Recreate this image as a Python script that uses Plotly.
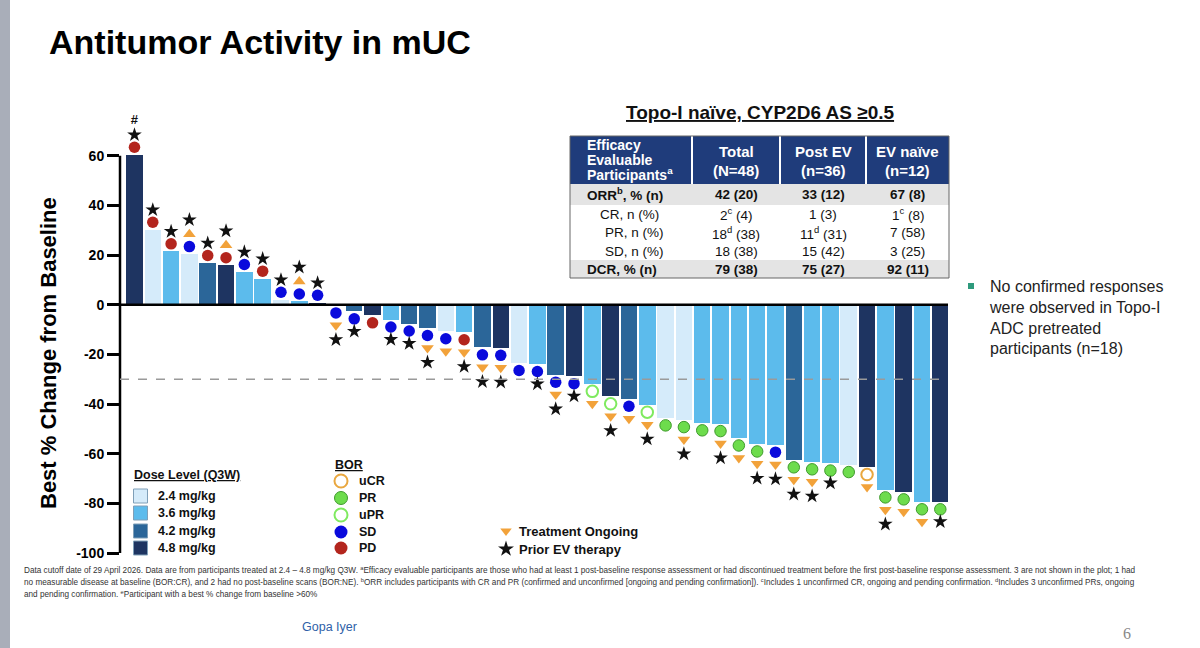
import plotly.graph_objects as go

W, H = 1200, 648

# waterfall data, one entry per participant (sorted by best % change)
best_change = [60.4, 30.2, 21.5, 20.4, 16.8, 15.9, 13.2, 10.5, 2.0, 1.3, 0.8,
               -0.3, -2.7, -4.3, -6.0, -7.6, -9.4, -10.7, -11.1, -17.2, -17.4,
               -23.5, -23.9, -28.2, -28.8, -31.9, -36.9, -37.9, -40.3, -45.6,
               -46.3, -47.6, -47.9, -53.7, -56.1, -56.4, -62.5, -63.3, -63.8,
               -64.4, -65.4, -74.6, -75.4, -79.4, -79.4]
dose = [4.8, 2.4, 3.6, 2.4, 4.2, 4.8, 3.6, 3.6, 2.4, 3.6, 4.8,
        3.6, 4.2, 4.8, 3.6, 4.2, 4.2, 2.4, 3.6, 4.2, 4.8,
        2.4, 3.6, 4.2, 4.8, 3.6, 4.8, 4.2, 3.6, 2.4,
        2.4, 3.6, 3.6, 3.6, 3.6, 3.6, 4.2, 3.6, 3.6,
        2.4, 4.8, 3.6, 4.8, 3.6, 4.8]
bor = ["PD", "PD", "PD", "SD", "PD", "PD", "SD", "PD", "SD", "SD", "SD",
       "SD", "SD", "PD", "SD", "SD", "SD", "SD", "PD", "SD", "SD",
       "SD", "SD", "SD", "SD", "uPR", "uPR", "SD", "uPR", "PR",
       "PR", "PR", "PR", "PR", "PR", "SD", "PR", "PR", "PR",
       "PR", "uCR", "PR", "PR", "PR", "PR"]
ongoing = [0, 0, 0, 1, 0, 1, 0, 0, 0, 1, 0,
           1, 0, 0, 0, 0, 1, 1, 1, 1, 1,
           0, 0, 1, 0, 1, 1, 1, 1, 0,
           1, 0, 1, 1, 1, 1, 1, 1, 0,
           0, 1, 1, 1, 1, 0]
prior_ev = [1, 1, 1, 1, 1, 1, 1, 1, 1, 1, 1,
            1, 1, 0, 1, 1, 1, 0, 1, 1, 1,
            0, 1, 1, 1, 0, 1, 0, 1, 0,
            1, 0, 1, 0, 1, 1, 1, 1, 1,
            0, 0, 1, 0, 0, 1]
over60 = [0]   # participants marked '#'

dose_levels = [2.4, 3.6, 4.2, 4.8]
dose_colors = {2.4: "#d5ebfa", 3.6: "#5cbbec", 4.2: "#2b6699", 4.8: "#1e3461"}
bor_order = ["uCR", "PR", "uPR", "SD", "PD"]
bor_style = {
    "uCR": dict(color="white", line=dict(color="#e9a73f", width=2)),
    "PR": dict(color="#6ddc4c", line=dict(color="#3f9a2c", width=1)),
    "uPR": dict(color="white", line=dict(color="#7fea5f", width=2)),
    "SD": dict(color="#0a0adc", line=dict(width=0)),
    "PD": dict(color="#b3251d", line=dict(width=0)),
}
ORANGE = "#f2a23a"

y_ticks = [-100, -80, -60, -40, -20, 0, 20, 40, 60]
y_ticktext = ["-100", "-80", "-60", "-40", "-20", "0", "20", "40", "60"]
ref_line = -30

# table
table_title = "Topo-I naïve, CYP2D6 AS ≥0.5"
table_head0 = ["Efficacy", "Evaluable", "Participants<sup>a</sup>"]
table_heads = [["Total", "(N=48)"], ["Post EV", "(n=36)"], ["EV naïve", "(n=12)"]]
row_labels = ["ORR<sup>b</sup>, % (n)", "CR, n (%)", "PR, n (%)", "SD, n (%)", "DCR, % (n)"]
col_total = ["42 (20)", "2<sup>c</sup> (4)", "18<sup>d</sup> (38)", "18 (38)", "79 (38)"]
col_post_ev = ["33 (12)", "1 (3)", "11<sup>d</sup> (31)", "15 (42)", "75 (27)"]
col_ev_naive = ["67 (8)", "1<sup>c</sup> (8)", "7 (58)", "3 (25)", "92 (11)"]
bold_rows = [True, False, False, False, True]

footnotes = [
    "Data cutoff date of 29 April 2026. Data are from participants treated at 2.4 – 4.8 mg/kg Q3W. <sup>a</sup>Efficacy evaluable participants are those who had at least 1 post-baseline response assessment or had discontinued treatment before the first post-baseline response assessment. 3 are not shown in the plot; 1 had",
    "no measurable disease at baseline (BOR:CR), and 2 had no post-baseline scans (BOR:NE). <sup>b</sup>ORR includes participants with CR and PR (confirmed and unconfirmed [ongoing and pending confirmation]). <sup>c</sup>Includes 1 unconfirmed CR, ongoing and pending confirmation. <sup>d</sup>Includes 3 unconfirmed PRs, ongoing",
    "and pending confirmation. <sup>e</sup>Participant with a best % change from baseline >60%",
]
side_note = "No confirmed responses<br>were observed in Topo-I<br>ADC pretreated<br>participants (n=18)"

FONT = "Arial, Liberation Sans, sans-serif"


def px(x):
    return x / W


def py(y):
    return 1 - y / H


# plot area in pixels
PL, PR, PT, PB = 120, 948, 116, 553

fig = go.Figure()
ann = []
shapes = []


def text(x, y, s, size, color="#111", bold=False, family=FONT, xanchor="center", yanchor="middle", **kw):
    ann.append(dict(x=px(x), y=py(y), xref="paper", yref="paper", text=s, showarrow=False,
                    xanchor=xanchor, yanchor=yanchor,
                    font=dict(family=family, size=size, color=color,
                              weight="bold" if bold else "normal"), **kw))


n = len(best_change)
xs = list(range(n))
fig.add_trace(go.Bar(x=xs, y=best_change, width=0.9,
                     marker=dict(color=[dose_colors[d] for d in dose], line=dict(width=0)),
                     hoverinfo="y"))

# stacked symbols beyond each bar end
slot = [3, 8, 13.8]
pts = {k: ([], []) for k in bor_order + ["up", "down", "ev", "#"]}
for i, v in enumerate(best_change):
    s = 1 if v > 0 else -1
    items = [bor[i]]
    if ongoing[i]:
        items.append("up" if s > 0 else "down")
    if prior_ev[i]:
        items.append("ev")
    if i in over60:
        items.append("#")
    for k, it in enumerate(items):
        pts[it][0].append(i)
        pts[it][1].append(v + s * slot[k])

for k in bor_order:
    st = bor_style[k]
    fig.add_trace(go.Scatter(x=pts[k][0], y=pts[k][1], mode="markers", cliponaxis=False,
                             marker=dict(symbol="circle", size=11.5, color=st["color"], line=st["line"])))
fig.add_trace(go.Scatter(x=pts["up"][0], y=pts["up"][1], mode="markers", cliponaxis=False,
                         marker=dict(symbol="triangle-up", size=11, color=ORANGE)))
fig.add_trace(go.Scatter(x=pts["down"][0], y=pts["down"][1], mode="markers", cliponaxis=False,
                         marker=dict(symbol="triangle-down", size=11, color=ORANGE)))
fig.add_trace(go.Scatter(x=pts["ev"][0], y=pts["ev"][1], mode="markers", cliponaxis=False,
                         marker=dict(symbol="star", size=11, color="#111111")))
fig.add_trace(go.Scatter(x=pts["#"][0], y=pts["#"][1], mode="text", text=["#"] * len(pts["#"][0]),
                         cliponaxis=False,
                         textfont=dict(family=FONT, size=13, color="#111", weight="bold")))

# legend markers on a pixel overlay axis
lg_dose_y = [496, 513, 531, 548]
fig.add_trace(go.Scatter(x=[140.5] * 4, y=lg_dose_y, mode="markers", xaxis="x2", yaxis="y2",
                         marker=dict(symbol="square", size=14, color=[dose_colors[d] for d in dose_levels],
                                     line=dict(color="#7f9fb8", width=1))))
lg_bor_y = [481, 498, 515, 532, 548]
for k, yy in zip(bor_order, lg_bor_y):
    st = bor_style[k]
    fig.add_trace(go.Scatter(x=[341], y=[yy], mode="markers", xaxis="x2", yaxis="y2",
                             marker=dict(symbol="circle", size=13, color=st["color"], line=st["line"])))
fig.add_trace(go.Scatter(x=[506], y=[531], mode="markers", xaxis="x2", yaxis="y2",
                         marker=dict(symbol="triangle-down", size=10, color=ORANGE)))
fig.add_trace(go.Scatter(x=[506], y=[549], mode="markers", xaxis="x2", yaxis="y2",
                         marker=dict(symbol="star", size=12, color="#111")))

# axes lines
shapes.append(dict(type="line", xref="paper", yref="y", x0=px(PL), x1=px(PL), y0=-100, y1=60,
                   line=dict(color="black", width=2.5)))
shapes.append(dict(type="line", xref="paper", yref="y", x0=px(PL), x1=px(PR), y0=0, y1=0,
                   line=dict(color="black", width=2.5)))
shapes.append(dict(type="line", xref="paper", yref="y", x0=px(PL), x1=px(PR), y0=ref_line, y1=ref_line,
                   line=dict(color="#9a9a9a", width=1.5, dash="dash")))

# left stripe
shapes.append(dict(type="rect", xref="paper", yref="paper", x0=0, x1=px(10), y0=0, y1=1,
                   fillcolor="#a9aeb9", line=dict(width=0), layer="below"))

# table
tx = [570, 692, 780, 866, 949]
ty = [136, 184, 205, 223, 242, 260, 278]
shapes.append(dict(type="rect", xref="paper", yref="paper", x0=px(tx[0]), x1=px(tx[-1]),
                   y0=py(ty[0]), y1=py(ty[1]), fillcolor="#1f3c7b", line=dict(width=0)))
for r in range(len(row_labels)):
    if bold_rows[r]:
        shapes.append(dict(type="rect", xref="paper", yref="paper", x0=px(tx[0]), x1=px(tx[-1]),
                           y0=py(ty[r + 1]), y1=py(ty[r + 2]), fillcolor="#e4e4e4", line=dict(width=0)))
for xv in tx[1:-1]:
    shapes.append(dict(type="line", xref="paper", yref="paper", x0=px(xv), x1=px(xv),
                       y0=py(ty[0]), y1=py(ty[1]), line=dict(color="white", width=2)))
shapes.append(dict(type="rect", xref="paper", yref="paper", x0=px(tx[0]), x1=px(tx[-1]),
                   y0=py(ty[0]), y1=py(ty[-1]), line=dict(color="#666", width=1)))

text(760, 112, "<u>" + table_title + "</u>", 19, bold=True)
for k, t in enumerate(table_head0):
    text(585, 145 + 14.5 * k, t, 14, color="white", bold=True, xanchor="left")
for c, hd in enumerate(table_heads):
    cx = (tx[c + 1] + tx[c + 2]) / 2
    for k, t in enumerate(hd):
        text(cx, 152 + 18 * k, t, 15, color="white", bold=True)
label_x = [585, 598, 603, 603, 585]
for r, lab in enumerate(row_labels):
    yc = (ty[r + 1] + ty[r + 2]) / 2
    text(label_x[r], yc, lab, 13.5, bold=bold_rows[r], xanchor="left")
    for c, col in enumerate([col_total, col_post_ev, col_ev_naive]):
        cx = (tx[c + 1] + tx[c + 2]) / 2
        text(cx, yc, col[r], 13.5, bold=bold_rows[r])

# title, axis title
text(47, 42, "Antitumor Activity in mUC", 34, color="black", bold=True, xanchor="left")
text(48, 353, "Best % Change from Baseline", 22, color="black", bold=True, textangle=-90)

# legends text
text(132, 475, "<u>Dose Level (Q3W)</u>", 12.5, bold=True, xanchor="left")
for d, yy in zip(dose_levels, lg_dose_y):
    text(156, yy, f"{d} mg/kg", 12.5, bold=True, xanchor="left")
text(333, 465, "<u>BOR</u>", 12.5, bold=True, xanchor="left")
for k, yy in zip(bor_order, lg_bor_y):
    text(357, yy, k, 12.5, bold=True, xanchor="left")
text(517, 531, "Treatment Ongoing", 13, bold=True, xanchor="left")
text(517, 549, "Prior EV therapy", 13, bold=True, xanchor="left")

# side note
shapes.append(dict(type="rect", xref="paper", yref="paper", x0=px(968), x1=px(974), y0=py(289), y1=py(283),
                   fillcolor="#2e9a7c", line=dict(width=0)))
text(987, 276, side_note, 16, color="#222", xanchor="left", yanchor="top", align="left")

# footnotes
for k, t in enumerate(footnotes):
    text(22, 570 + 11.8 * k, t, 8.2, color="#333", xanchor="left")

text(300, 627, "Gopa Iyer", 12.5, color="#2f5fa8", xanchor="left")
text(1127, 633, "6", 16, color="#888", family="Liberation Serif, Times New Roman, serif")

fig.update_layout(
    width=W, height=H,
    margin=dict(l=0, r=0, t=0, b=0),
    paper_bgcolor="white", plot_bgcolor="rgba(0,0,0,0)",
    font=dict(family=FONT),
    showlegend=False,
    bargap=0,
    xaxis=dict(domain=[px(PL), px(PR)], range=[-0.79, 44.42], visible=False, fixedrange=True),
    yaxis=dict(domain=[py(PB), py(PT)], range=[-100, 76], tickvals=y_ticks, ticktext=y_ticktext,
               ticks="outside", ticklen=12, tickwidth=2.5, tickcolor="black",
               showline=False, showgrid=False, zeroline=False, automargin=False,
               tickfont=dict(size=14, color="black", weight="bold")),
    xaxis2=dict(domain=[0, 1], range=[0, W], visible=False, anchor="y2"),
    yaxis2=dict(domain=[0, 1], range=[H, 0], visible=False, anchor="x2"),
    shapes=shapes,
    annotations=ann,
)

fig.write_html("out.html", config={"displayModeBar": False},
               post_script="document.body.style.margin='0';")
